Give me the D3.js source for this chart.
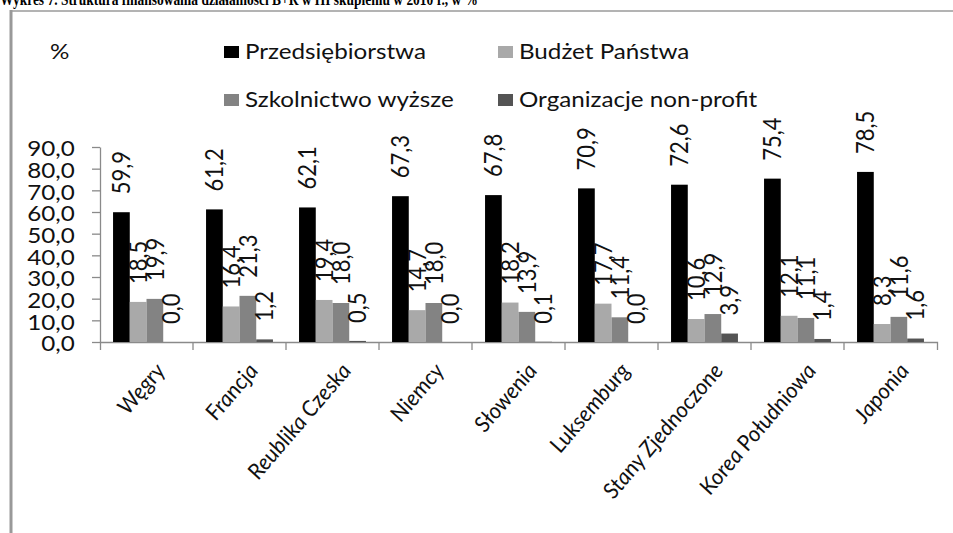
<!DOCTYPE html>
<html>
<head>
<meta charset="utf-8">
<script src="https://cdn.jsdelivr.net/npm/d3@7"></script>
<style>
  body { margin: 0; background: #fff; }
  svg { display: block; }
</style>
</head>
<body>
<script>
"use strict";

// Data

let categories = ["Węgry", "Francja", "Reublika Czeska", "Niemcy", "Słowenia",
    "Luksemburg", "Stany Zjednoczone", "Korea Południowa", "Japonia"];
let seriesNames = ["Przedsiębiorstwa", "Budżet Państwa", "Szkolnictwo wyższe", "Organizacje non-profit"];
let przedsiebiorstwa = [59.9, 61.2, 62.1, 67.3, 67.8, 70.9, 72.6, 75.4, 78.5];
let budzet = [18.5, 16.4, 19.4, 14.7, 18.2, 17.7, 10.6, 12.1, 8.3];
let szkolnictwo = [19.9, 21.3, 18.0, 18.0, 13.9, 11.4, 12.9, 11.1, 11.6];
let nonProfit = [0.0, 1.2, 0.5, 0.0, 0.1, 0.0, 3.9, 1.4, 1.6];
let yTicks = [0, 10, 20, 30, 40, 50, 60, 70, 80, 90];

let seriesValues = [przedsiebiorstwa, budzet, szkolnictwo, nonProfit];
let colors = ["#000000", "#a9a9a9", "#838383", "#545454"];

// Layout

let svgWidth = 953;
let svgHeight = 533;
let stretch = 1.1;   // the picture is slightly stretched horizontally
let font = "Lato, 'Open Sans', sans-serif";
let fontWeight = 400;
let fontSize = 22;
let axisColor = "#8a8a8a";

let xLeft = 100, xRight = 937;
let yTop = 147, yBottom = 342;

let fmt = v => d3.format(".1f")(v).replace(".", ",");

function textStyle(sel, size) {
    sel.style("font-family", font)
        .style("font-weight", fontWeight)
        .style("font-size", (size || fontSize) + "px")
        .style("fill", "#111");
}

let svg = d3.select("body")
    .append("svg")
    .attr("width", svgWidth)
    .attr("height", svgHeight);

// Title (cut off at the top like in the source)
svg.append("text")
    .attr("x", 0)
    .attr("y", 5)
    .attr("textLength", 478)
    .attr("lengthAdjust", "spacingAndGlyphs")
    .style("font-family", "'Liberation Serif', 'Times New Roman', serif")
    .style("font-weight", "bold")
    .style("font-size", "17px")
    .text("Wykres 7. Struktura finansowania działalności B+R w HI skupieniu w 2010 r., w %");

// Frame
svg.append("line")
    .attr("x1", 10).attr("x2", svgWidth)
    .attr("y1", 11).attr("y2", 11)
    .style("stroke", "#9a9a9a")
    .style("stroke-width", 1.5);
svg.append("line")
    .attr("x1", 11).attr("x2", 11)
    .attr("y1", 10).attr("y2", svgHeight)
    .style("stroke", "#999")
    .style("stroke-width", 3);

// Scales

let x0 = d3.scaleBand()
    .domain(categories)
    .range([xLeft, xRight])
    .padding(0);

let x1 = d3.scaleBand()
    .domain(seriesNames)
    .range([0, x0.bandwidth()])
    .paddingInner(0)
    .paddingOuter(0.78);

let y = d3.scaleLinear()
    .domain([0, 90])
    .range([yBottom, yTop]);

let color = d3.scaleOrdinal()
    .domain(seriesNames)
    .range(colors);

// Axes

let yAxis = d3.axisLeft(y)
    .tickValues(yTicks)
    .tickSize(8)
    .tickSizeOuter(0)
    .tickFormat(fmt);

let gy = svg.append("g")
    .attr("transform", `translate(${xLeft}, 0)`)
    .call(yAxis);

gy.selectAll(".tick text")
    .attr("x", -23)
    .attr("dy", "0.4em")
    .attr("transform", `scale(${stretch}, 1)`)
    .call(textStyle);

let xAxis = d3.axisBottom(x0)
    .tickSize(0)
    .tickSizeOuter(8)
    .tickFormat("");

let gx = svg.append("g")
    .attr("transform", `translate(0, ${yBottom})`)
    .call(xAxis);

// tick marks sit between the categories
gx.selectAll(".sep")
    .data(categories.slice(1))
    .enter()
    .append("line")
    .attr("class", "sep")
    .attr("x1", d => x0(d))
    .attr("x2", d => x0(d))
    .attr("y1", 0)
    .attr("y2", 8);

svg.selectAll(".domain, .tick line, .sep")
    .style("stroke", axisColor)
    .style("stroke-width", 1.3);

// Bars

let rows = [];
seriesNames.forEach((s, i) => {
    categories.forEach((c, j) => {
        rows.push({series: s, category: c, value: seriesValues[i][j]});
    });
});

svg.append("g")
    .selectAll("rect")
    .data(rows)
    .enter()
    .append("rect")
    .attr("x", d => x0(d.category) + x1(d.series))
    .attr("y", d => y(d.value))
    .attr("width", x1.bandwidth())
    .attr("height", d => Math.max(0, yBottom - y(d.value)))
    .attr("fill", d => color(d.series));

// Value labels, rotated

svg.append("g")
    .selectAll("text")
    .data(rows)
    .enter()
    .append("text")
    .attr("transform", d => {
        let cx = x0(d.category) + x1(d.series) + x1.bandwidth() / 2;
        return `translate(${cx}, ${y(d.value) - 18}) scale(${stretch}, 1) rotate(-90)`;
    })
    .attr("dy", "0.36em")
    .call(textStyle)
    .text(d => fmt(d.value));

// Category labels, slanted

svg.append("g")
    .selectAll("text")
    .data(categories)
    .enter()
    .append("text")
    .attr("transform", d => {
        let cx = x0(d) + x0.bandwidth() / 2;
        return `translate(${cx + 20}, ${yBottom + 29}) scale(${stretch}, 1) rotate(-52)`;
    })
    .style("text-anchor", "end")
    .call(textStyle, 21)
    .style("font-style", "italic")
    .text(d => d);

// Legend

let legendPos = [[224, 59], [498, 59], [224, 107], [498, 107]];

let legend = svg.append("g")
    .selectAll("g")
    .data(seriesNames)
    .enter()
    .append("g")
    .attr("transform", (d, i) => `translate(${legendPos[i][0]}, ${legendPos[i][1]})`);

legend.append("rect")
    .attr("x", 0)
    .attr("y", -13)
    .attr("width", 15)
    .attr("height", 12)
    .attr("fill", d => color(d));

legend.append("text")
    .attr("x", 21 / stretch)
    .attr("transform", `scale(${stretch}, 1)`)
    .call(textStyle)
    .text(d => d);

// Unit
svg.append("text")
    .attr("x", 50 / stretch)
    .attr("y", 59)
    .attr("transform", `scale(${stretch}, 1)`)
    .call(textStyle)
    .text("%");
</script>
</body>
</html>
